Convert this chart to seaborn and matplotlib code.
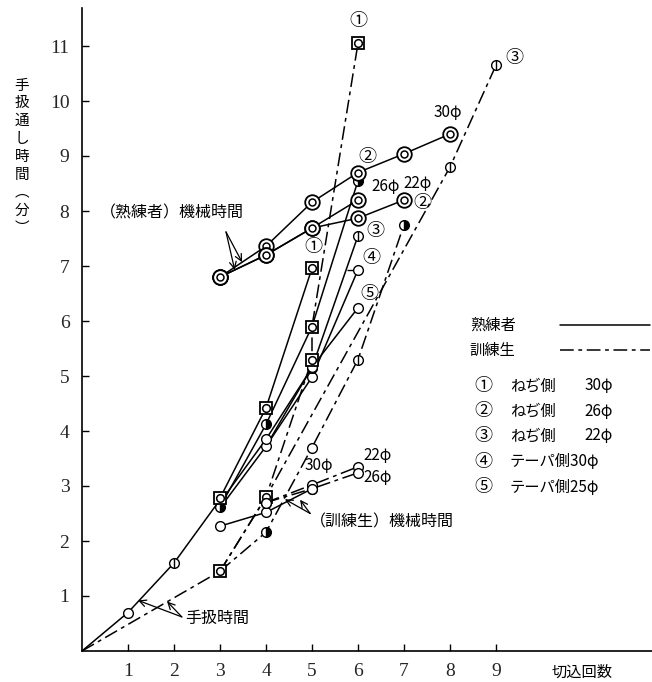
import matplotlib
matplotlib.use("Agg")
import matplotlib.pyplot as plt
import seaborn as sns

# ---------------- data ----------------
x_ticks = [1, 2, 3, 4, 5, 6, 7, 8, 9]
y_ticks = [1, 2, 3, 4, 5, 6, 7, 8, 9, 10, 11]

# hand time (手扱時間)
skilled_hand_x = [0, 1, 2, 3]
skilled_hand_y = [0.0, 0.7, 1.6, 2.75]
trainee_hand_x = [0, 3]
trainee_hand_y = [0.0, 1.45]

# skilled (熟練者) cutting curves, solid
sk1_x = [3, 4, 5]
sk1_y = [2.78, 4.42, 6.96]
sk2_x = [3, 4, 5, 6]
sk2_y = [2.62, 4.12, 5.9, 8.55]
sk3_x = [3, 4, 5, 6]
sk3_y = [2.7, 3.85, 5.15, 7.55]
sk4_x = [3, 4, 5, 6]
sk4_y = [2.6, 3.72, 4.98, 6.93]
sk5_x = [4, 5, 6]
sk5_y = [3.72, 5.16, 6.24]

# trainee (訓練生) cutting curves, dash-dot
tr1_x = [3, 4, 5, 5, 6]
tr1_y = [1.45, 2.8, 5.3, 5.9, 11.05]
tr2_x = [3, 4, 5, 6, 7]
tr2_y = [1.45, 2.16, 3.7, 5.3, 7.75]
tr3_x = [3, 4, 8, 9]
tr3_y = [1.45, 2.8, 8.8, 10.65]

# skilled machine time (熟練者 機械時間)
skm30_x = [3, 4, 5, 6, 7, 8]
skm30_y = [6.8, 7.36, 8.16, 8.7, 9.04, 9.4]
skm26_x = [3, 4, 5, 6]
skm26_y = [6.8, 7.2, 7.69, 8.2]
skm22_x = [3, 4, 5, 6, 7]
skm22_y = [6.8, 7.2, 7.69, 7.87, 8.2]

# trainee machine time (訓練生 機械時間)
trm30_x = [3, 4, 5]
trm30_y = [2.27, 2.52, 2.95]
trm22_x = [4, 5, 6]
trm22_y = [2.7, 3.02, 3.35]
trm26_x = [4, 5, 6]
trm26_y = [2.7, 2.95, 3.24]

legend_labels = ["熟練者", "訓練生"]
legend_items = [("①", "ねぢ側", "30φ"), ("②", "ねぢ側", "26φ"), ("③", "ねぢ側", "22φ"),
                ("④", "テーパ側30φ", ""), ("⑤", "テーパ側25φ", "")]

# ---------------- style ----------------
sns.set_theme(style="white")
plt.rcParams["font.family"] = ["Noto Sans CJK JP", "DejaVu Sans"]
SOLID = "-"
DASHDOT = (0, (9, 3, 2.5, 3))
LW = 1.1

fig = plt.figure(figsize=(6.52, 6.82), dpi=100)
ax = fig.add_axes([82 / 652, 31 / 682, 570 / 652, 643 / 682])
ax.set_xlim(0, 570 / 46)
ax.set_ylim(0, 643 / 55)


def line(x, y, ls):
    sns.lineplot(x=x, y=y, ax=ax, sort=False, estimator=None, color="black",
                 lw=LW, linestyle=ls, zorder=2)


def mark(x, y, kind):
    kw = dict(linestyle="none", mec="black", zorder=4)
    if kind == "o":
        ax.plot([x], [y], "o", ms=7, mfc="white", mew=1.0, **kw)
    elif kind == "bar":
        ax.plot([x], [y], "o", ms=7, mfc="white", mew=1.0, **kw)
        ax.plot([x], [y], "|", ms=7, mew=1.0, **kw)
    elif kind == "tick":
        ax.plot([x], [y], "o", ms=7, mfc="white", mew=1.0, **kw)
        ax.plot([x - 0.18], [y], "_", ms=5, mew=1.0, **kw)
    elif kind == "half":
        ax.plot([x], [y], "o", ms=7, fillstyle="right", mfc="black",
                markerfacecoloralt="white", mew=1.0, **kw)
    elif kind == "sq":
        ax.plot([x], [y], "s", ms=9, mfc="white", mew=1.3, **kw)
        ax.plot([x], [y], "o", ms=5.5, mfc="white", mew=1.1, **kw)
    elif kind == "dbl":
        ax.plot([x], [y], "o", ms=10.5, mfc="white", mew=1.3, **kw)
        ax.plot([x], [y], "o", ms=5, mfc="white", mew=1.1, **kw)


series = [
    (skilled_hand_x, skilled_hand_y, SOLID, [None, "o", "bar", None]),
    (trainee_hand_x, trainee_hand_y, DASHDOT, [None, None]),
    (sk4_x, sk4_y, SOLID, [None, "o", "o", "tick"]),
    (sk3_x, sk3_y, SOLID, [None, "o", "o", "bar"]),
    (sk2_x, sk2_y, SOLID, ["half", "half", "sq", "half"]),
    (sk5_x, sk5_y, SOLID, [None, "o", "o"]),
    (sk1_x, sk1_y, SOLID, ["sq", "sq", "sq"]),
    (tr2_x, tr2_y, DASHDOT, [None, "half", "o", "bar", "half"]),
    (tr3_x, tr3_y, DASHDOT, [None, None, "bar", "bar"]),
    (tr1_x, tr1_y, DASHDOT, ["sq", "sq", "sq", None, "sq"]),
    (skm30_x, skm30_y, SOLID, ["dbl"] * 6),
    (skm26_x, skm26_y, SOLID, ["dbl"] * 4),
    (skm22_x, skm22_y, SOLID, ["dbl"] * 5),
    (trm30_x, trm30_y, SOLID, ["o"] * 3),
    (trm22_x, trm22_y, DASHDOT, ["o"] * 3),
    (trm26_x, trm26_y, DASHDOT, ["o"] * 3),
]
for xs, ys, ls, kinds in series:
    line(xs, ys, ls)
    for xv, yv, k in zip(xs, ys, kinds):
        if k:
            mark(xv, yv, k)

# ---------------- axes ----------------
for s in ["top", "right"]:
    ax.spines[s].set_visible(False)
for s in ["left", "bottom"]:
    ax.spines[s].set_color("black")
    ax.spines[s].set_linewidth(1.2)
ax.set_xticks(x_ticks)
ax.set_yticks(y_ticks)
ax.set_xticklabels([str(v) for v in x_ticks], family="Liberation Serif", fontsize=14)
ax.set_yticklabels([str(v) for v in y_ticks], family="Liberation Serif", fontsize=14)
ax.tick_params(axis="both", direction="in", length=5, width=1.0, color="black",
               left=True, bottom=True, pad=9)
ax.grid(False)

# ---------------- labels ----------------
txt = dict(color="black", fontsize=11)
num = dict(color="black", fontsize=13)
ax.text(6.0, 11.45, "①", ha="center", va="center", **num)
ax.text(6.2, 8.98, "②", ha="center", va="center", **num)
ax.text(6.3, 8.45, "26φ", ha="left", va="center", **txt)
ax.text(7.3, 8.5, "22φ", ha="center", va="center", **txt)
ax.text(7.41, 8.15, "②", ha="center", va="center", **num)
ax.text(7.96, 9.8, "30φ", ha="center", va="center", **txt)
ax.text(9.39, 10.78, "③", ha="center", va="center", **num)
ax.text(5.02, 7.35, "①", ha="center", va="center", **num)
ax.text(6.37, 7.64, "③", ha="center", va="center", **num)
ax.text(6.3, 7.15, "④", ha="center", va="center", **num)
ax.text(6.24, 6.49, "⑤", ha="center", va="center", **num)
ax.text(5.15, 3.38, "30φ", ha="center", va="center", **txt)
ax.text(6.43, 3.56, "22φ", ha="center", va="center", **txt)
ax.text(6.43, 3.15, "26φ", ha="center", va="center", **txt)

big = dict(color="black", fontsize=11.5)
ax.text(0.39, 7.96, "（熟練者）機械時間", ha="left", va="center", **big)
ax.text(2.24, 0.6, "手扱時間", ha="left", va="center", **big)
ax.text(4.96, 2.35, "（訓練生）機械時間", ha="left", va="center", **big)

arw = dict(arrowstyle="->", color="black", lw=0.9, shrinkA=0, shrinkB=0)
ax.annotate("", xy=(3.48, 7.07), xytext=(3.13, 7.62), arrowprops=arw)
ax.annotate("", xy=(3.32, 6.93), xytext=(3.13, 7.62), arrowprops=arw)
ax.annotate("", xy=(1.22, 0.92), xytext=(2.17, 0.62), arrowprops=arw)
ax.annotate("", xy=(1.85, 0.9), xytext=(2.17, 0.62), arrowprops=arw)
ax.annotate("", xy=(4.41, 2.76), xytext=(4.96, 2.5), arrowprops=arw)
ax.annotate("", xy=(4.74, 2.75), xytext=(4.96, 2.5), arrowprops=arw)

# legend block
ax.text(8.43, 5.93, legend_labels[0], ha="left", va="center", **txt)
ax.text(8.43, 5.47, legend_labels[1], ha="left", va="center", **txt)
sns.lineplot(x=[10.39, 12.35], y=[5.93, 5.93], ax=ax, color="black", lw=LW, linestyle=SOLID)
sns.lineplot(x=[10.39, 12.35], y=[5.47, 5.47], ax=ax, color="black", lw=LW, linestyle=DASHDOT)
leg_y = [4.82, 4.36, 3.91, 3.44, 2.98]
for (n, name, dia), yv in zip(legend_items, leg_y):
    ax.text(8.54, yv, n, ha="left", va="center", **num)
    ax.text(9.3, yv, name, ha="left", va="center", **txt)
    if dia:
        ax.text(10.93, yv, dia, ha="left", va="center", **txt)

# axis titles
fig.text(22 / 652, 1 - 157 / 682, "\n".join("手扱通し時間︵分︶"), ha="center", va="center",
         fontsize=10.5, linespacing=1.35, color="black")
fig.text(582 / 652, 10 / 682, "切込回数", ha="center", va="center", fontsize=11, color="black")

fig.savefig("out.png", dpi=100)
